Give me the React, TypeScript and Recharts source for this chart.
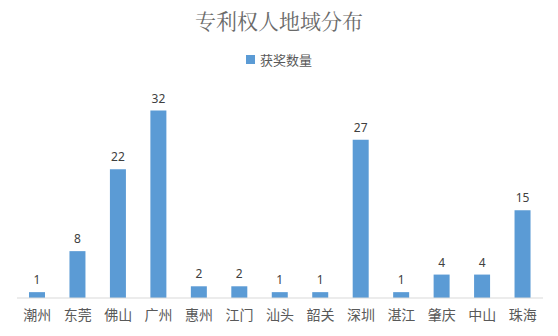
import { BarChart, Bar, XAxis, YAxis, LabelList } from 'recharts';

const cities = ['潮州', '东莞', '佛山', '广州', '惠州', '江门', '汕头', '韶关', '深圳', '湛江', '肇庆', '中山', '珠海'];
const awards = [1, 8, 22, 32, 2, 2, 1, 1, 27, 1, 4, 4, 15];
const seriesName = '获奖数量';

const data = cities.map((city, i) => ({ city, value: awards[i] }));

const font = '"Noto Sans CJK SC", "Noto Sans", sans-serif';
const barColor = '#5b9bd5';

export default function App() {
  return (
    <div style={{ position: 'absolute', left: 0, top: 0, width: 558, height: 336, background: '#fff', fontFamily: font }}>
      <div style={{ position: 'absolute', top: 5, left: 0, width: 558, textAlign: 'center', fontSize: 21, color: '#6a6a6a', fontFamily: '"Noto Serif CJK SC", "Noto Sans CJK SC", serif' }}>
        专利权人地域分布
      </div>
      {/* legend drawn by hand so it doesn't push the plot area down */}
      <div style={{ position: 'absolute', top: 50, left: 0, width: 558, display: 'flex', justifyContent: 'center', alignItems: 'center', fontSize: 13, color: '#595959' }}>
        <span style={{ display: 'inline-block', width: 9, height: 9, background: barColor, marginRight: 5 }} />
        <span>{seriesName}</span>
      </div>
      <BarChart
        width={558}
        height={336}
        data={data}
        margin={{ top: 93, right: 15, left: 17, bottom: 8 }}
      >
        <XAxis
          dataKey="city"
          height={30}
          tickLine={false}
          axisLine={{ stroke: '#d9d9d9' }}
          tick={{ fontSize: 14, fill: '#595959', fontFamily: font }}
          tickMargin={6}
          interval={0}
        />
        <YAxis hide domain={[0, 35]} />
        <Bar dataKey="value" name={seriesName} fill={barColor} barSize={16} isAnimationActive={false}>
          <LabelList dataKey="value" position="top" offset={8} style={{ fontSize: 12, fill: '#404040', fontFamily: '"Noto Sans", sans-serif' }} />
        </Bar>
      </BarChart>
    </div>
  );
}
